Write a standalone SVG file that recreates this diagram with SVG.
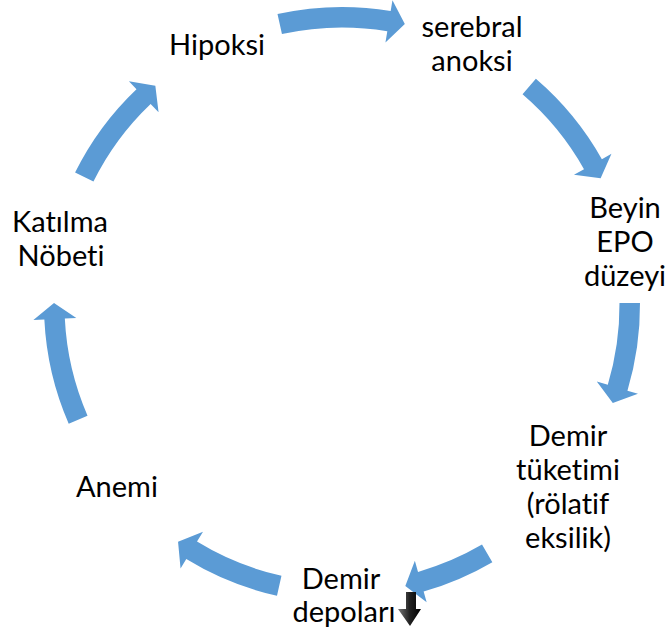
<svg xmlns="http://www.w3.org/2000/svg" width="667" height="637" viewBox="0 0 667 637">
<defs>
<style>
.arr{fill:#5B9BD5;stroke:none}
.lbl{font-family:Lato,"Open Sans","Liberation Sans",sans-serif;font-size:29px;fill:#000;text-anchor:middle;font-variant-ligatures:none;font-feature-settings:"liga" 0,"clig" 0}
</style>
<linearGradient id="blk" x1="0" y1="0" x2="1" y2="0">
<stop offset="0" stop-color="#777"/>
<stop offset="0.5" stop-color="#222"/>
<stop offset="1" stop-color="#000"/>
</linearGradient>
</defs>
<rect width="667" height="637" fill="#fff"/>
<g id="connectors">
<path class="arr" d="M277.50,14.06 A298,298 0 0 1 390.67,11.00 L392.47,0.15 L404.82,23.93 L385.45,42.57 L387.32,31.23 A277.5,277.5 0 0 0 281.94,34.08 Z"/>
<path class="arr" d="M535.88,78.68 A298,298 0 0 1 601.88,159.16 L611.47,153.78 L600.63,178.30 L573.97,174.82 L584.00,169.20 A277.5,277.5 0 0 0 522.54,94.25 Z"/>
<path class="arr" d="M639.99,302.92 A298,298 0 0 1 627.43,390.63 L637.97,393.79 L612.80,403.03 L596.78,381.44 L607.80,384.74 A277.5,277.5 0 0 0 619.49,303.06 Z"/>
<path class="arr" d="M492.35,562.29 A298,298 0 0 1 423.64,591.60 L426.65,602.18 L405.32,585.95 L414.87,560.82 L418.02,571.88 A277.5,277.5 0 0 0 482.01,544.59 Z"/>
<path class="arr" d="M276.99,595.82 A298,298 0 0 1 186.29,559.09 L180.55,568.47 L178.05,541.78 L203.01,531.80 L197.01,541.61 A277.5,277.5 0 0 0 281.47,575.82 Z"/>
<path class="arr" d="M68.72,423.83 A298,298 0 0 1 44.35,319.56 L33.37,320.09 L54.01,302.99 L76.32,317.99 L64.83,318.56 A277.5,277.5 0 0 0 87.52,415.65 Z"/>
<path class="arr" d="M75.08,172.50 A298,298 0 0 1 136.49,89.20 L128.91,81.23 L155.34,85.68 L158.56,112.37 L150.63,104.04 A277.5,277.5 0 0 0 93.44,181.61 Z"/>
</g>
<g id="node-hipoksi"><text class="lbl" x="217" y="55">Hipoksi</text></g>
<g id="node-serebral"><text class="lbl" x="472" y="37">serebral</text><text class="lbl" x="472" y="71">anoksi</text></g>
<g id="node-beyin"><text class="lbl" x="625" y="218">Beyin</text><text class="lbl" x="625" y="252">EPO</text><text class="lbl" x="625" y="286">düzeyi</text></g>
<g id="node-tuketim"><text class="lbl" x="568" y="446">Demir</text><text class="lbl" x="568" y="480">tüketimi</text><text class="lbl" x="568" y="514">(rölatif</text><text class="lbl" x="568" y="548">eksilik)</text></g>
<g id="node-depolar"><text class="lbl" x="341" y="589">Demir</text><text class="lbl" x="344" y="622">depoları</text>
<path fill="url(#blk)" d="M406,592 L416,592 L416,609 L421,609 L410,626 L398,609 L406,609 Z"/></g>
<g id="node-anemi"><text class="lbl" x="117" y="497">Anemi</text></g>
<g id="node-katilma"><text class="lbl" x="60" y="232">Katılma</text><text class="lbl" x="61" y="266">Nöbeti</text></g>
</svg>
